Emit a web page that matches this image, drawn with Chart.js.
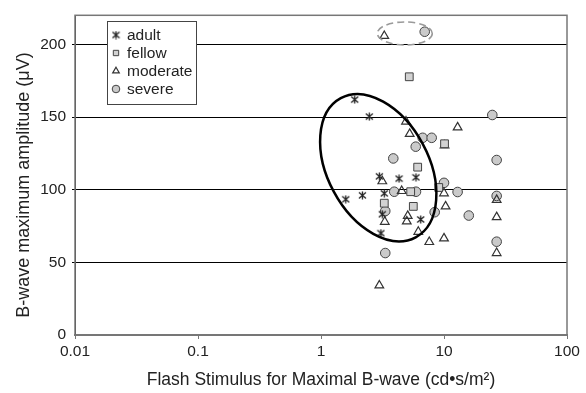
<!DOCTYPE html>
<html>
<head>
<meta charset="utf-8">
<script src="https://cdn.jsdelivr.net/npm/chart.js@4.4.0/dist/chart.umd.min.js"></script>
<style>
html, body { margin: 0; padding: 0; background: #fff; }
#wrap { width: 586px; height: 393px; position: relative; }
</style>
</head>
<body>
<div id="wrap"><canvas id="myChart"></canvas></div>
<script>
// values
const seriesNames = ['adult', 'fellow', 'moderate', 'severe'];

const adultX = [1.88, 2.47, 1.59, 2.17, 2.98, 4.31, 5.92, 3.27, 3.15, 6.47, 3.07];
const adultY = [162, 150.3, 93.4, 96.1, 109.2, 107.6, 108.5, 97.5, 83.1, 79.5, 70.1];

const fellowX = [5.22, 10.1, 6.11, 5.36, 3.27, 5.63, 9.06];
const fellowY = [177.7, 131.6, 115.5, 98.6, 90.7, 88.5, 101.5];

const moderateX = [3.27, 4.91, 5.26, 10.1, 3.15, 4.53, 10.0, 3.30, 5.07, 4.98, 10.3, 6.18, 7.59, 10.0, 2.98, 12.9, 26.8, 26.8, 26.8];
const moderateY = [205.8, 146.9, 138.4, 130.5, 105.8, 99.1, 97.5, 77.9, 82.0, 78.2, 88.5, 71.0, 64.0, 66.5, 34.1, 142.9, 81.1, 56.4, 93];

const severeX = [6.97, 24.7, 6.71, 7.94, 5.89, 3.87, 3.94, 5.92, 10.0, 3.33, 8.40, 3.33, 12.9, 15.9, 26.8, 26.8, 26.8];
const severeY = [208.7, 151.4, 135.7, 135.7, 129.6, 121.5, 98.6, 98.6, 104.7, 85.3, 84.5, 56.4, 98.4, 82.2, 120.4, 95.7, 64.2];

const xTicks = [0.01, 0.1, 1, 10, 100];
const yTicks = [0, 50, 100, 150, 200];

const xTitle = 'Flash Stimulus for Maximal B-wave (cd•s/m²)';
const yTitle = 'B-wave maximum amplitude (μV)';

// ellipse centres in data units
const clusterCentre = [2.92, 115.1];
const outlierCentre = [4.80, 207.5];

const FONT = '"Liberation Sans", Arial, sans-serif';

function pts(xs, ys) {
    return xs.map((x, i) => ({x: x, y: ys[i]}));
}

// little asterisk like the original (x with a vertical bar)
function makeStar() {
    const c = document.createElement('canvas');
    c.width = 9; c.height = 9;
    const g = c.getContext('2d');
    g.strokeStyle = '#222';
    g.lineWidth = 1.3;
    g.beginPath();
    g.moveTo(4.5, 0.5); g.lineTo(4.5, 8.5);
    g.moveTo(1, 1.5); g.lineTo(8, 7.5);
    g.moveTo(8, 1.5); g.lineTo(1, 7.5);
    g.stroke();
    return c;
}
const star = makeStar();

const styles = [
    {pointStyle: star, radius: 4, backgroundColor: '#222', borderColor: '#222', borderWidth: 1},
    {pointStyle: 'rect', radius: 5.5, backgroundColor: '#d2d2d2', borderColor: '#444', borderWidth: 1},
    {pointStyle: 'triangle', radius: 5, backgroundColor: 'rgba(255,255,255,0)', borderColor: '#333', borderWidth: 1.2},
    {pointStyle: 'circle', radius: 4.8, backgroundColor: '#cacaca', borderColor: '#444', borderWidth: 1}
];

const extras = {
    id: 'extras',
    afterDatasetsDraw(chart) {
        const ctx = chart.ctx;
        const xs = chart.scales.x, ys = chart.scales.y;
        const a = chart.chartArea;
        ctx.save();
        // plot frame
        ctx.strokeStyle = '#777';
        ctx.lineWidth = 1.5;
        ctx.strokeRect(a.left, a.top, a.right - a.left, a.bottom - a.top);
        // cluster ellipse
        ctx.strokeStyle = '#000';
        ctx.lineWidth = 2.5;
        ctx.beginPath();
        ctx.ellipse(xs.getPixelForValue(clusterCentre[0]), ys.getPixelForValue(clusterCentre[1]), 79, 50.5, 61.7 * Math.PI / 180, 0, 2 * Math.PI);
        ctx.stroke();
        // dashed ring round the two outliers
        ctx.strokeStyle = '#9a9a9a';
        ctx.lineWidth = 1.6;
        ctx.setLineDash([7, 4]);
        ctx.beginPath();
        ctx.ellipse(xs.getPixelForValue(outlierCentre[0]), ys.getPixelForValue(outlierCentre[1]), 27.5, 11.5, 0, 0, 2 * Math.PI);
        ctx.stroke();
        ctx.setLineDash([]);
        ctx.restore();
    },
    afterDraw(chart) {
        const ctx = chart.ctx;
        const a = chart.chartArea;
        ctx.save();
        // axis titles
        ctx.fillStyle = '#222';
        ctx.textAlign = 'center';
        ctx.textBaseline = 'middle';
        ctx.font = '17.5px ' + FONT;
        ctx.fillText(xTitle, (a.left + a.right) / 2, 380);
        ctx.save();
        ctx.translate(24, 185);
        ctx.rotate(-Math.PI / 2);
        ctx.font = '18px ' + FONT;
        ctx.fillText(yTitle, 0, 0);
        ctx.restore();

        // legend box inside the plot
        const bx = 107, by = 21, bw = 89, bh = 83;
        ctx.textAlign = 'left';
        ctx.fillStyle = '#fff';
        ctx.fillRect(bx, by, bw, bh);
        ctx.strokeStyle = '#444';
        ctx.lineWidth = 1;
        ctx.strokeRect(bx + 0.5, by + 0.5, bw, bh);
        ctx.font = '15.5px ' + FONT;
        seriesNames.forEach((name, i) => {
            const y = by + 14 + i * 18;
            const s = styles[i];
            ctx.fillStyle = s.backgroundColor;
            ctx.strokeStyle = s.borderColor;
            ctx.lineWidth = s.borderWidth;
            Chart.helpers.drawPoint(ctx, {pointStyle: s.pointStyle, radius: i === 0 ? 4 : 3.8, borderWidth: s.borderWidth, rotation: 0}, bx + 9, y);
            ctx.fillStyle = '#222';
            ctx.fillText(name, bx + 20, y + 1);
        });
        ctx.restore();
    }
};

const ctx = document.getElementById('myChart');
new Chart(ctx, {
    type: 'scatter',
    data: {
        datasets: [
            Object.assign({label: seriesNames[0], data: pts(adultX, adultY)}, styles[0]),
            Object.assign({label: seriesNames[1], data: pts(fellowX, fellowY)}, styles[1]),
            Object.assign({label: seriesNames[2], data: pts(moderateX, moderateY)}, styles[2]),
            Object.assign({label: seriesNames[3], data: pts(severeX, severeY)}, styles[3])
        ]
    },
    options: {
        responsive: true,
        maintainAspectRatio: false,
        animation: false,
        layout: {padding: {top: 8, right: 19, left: 0, bottom: 0}},
        plugins: {legend: {display: false}, tooltip: {enabled: false}},
        scales: {
            x: {
                type: 'logarithmic',
                min: 0.01,
                max: 100,
                afterBuildTicks: s => { s.ticks = xTicks.map(v => ({value: v})); },
                afterFit: s => { s.height = 58; },
                ticks: {
                    callback: v => String(v),
                    autoSkip: false,
                    maxRotation: 0,
                    padding: 3,
                    color: '#222',
                    font: {family: FONT, size: 15.5}
                },
                grid: {drawOnChartArea: false, drawTicks: true, tickLength: 4, color: '#777'},
                border: {color: '#777', width: 2}
            },
            y: {
                min: 0,
                max: 220,
                afterBuildTicks: s => { s.ticks = yTicks.map(v => ({value: v})); },
                afterFit: s => { s.width = 75; },
                ticks: {
                    padding: 6,
                    color: '#222',
                    font: {family: FONT, size: 15.5}
                },
                grid: {
                    color: '#000',
                    lineWidth: c => (c.tick && c.tick.value === 0 ? 0 : 1),
                    drawTicks: true,
                    tickLength: 3
                },
                border: {color: '#333', width: 1}
            }
        }
    },
    plugins: [extras]
});
</script>
</body>
</html>
